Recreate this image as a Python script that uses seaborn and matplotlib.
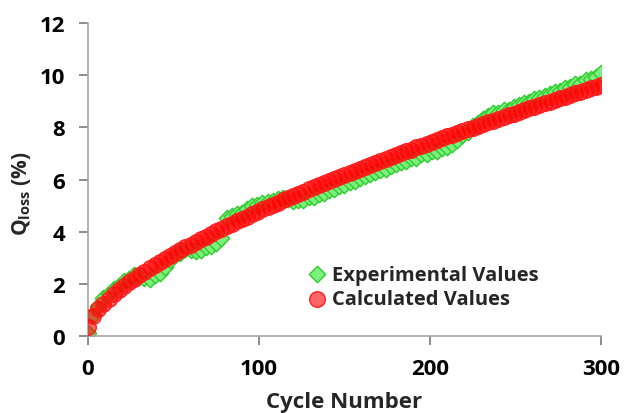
import numpy as np
import pandas as pd
import matplotlib.pyplot as plt
import seaborn as sns

# cycle numbers (every 3rd cycle)
cycles = list(range(0, 301, 3))

experimental = [
    0.10, 0.82, 1.14, 1.44, 1.60, 1.82, 1.93, 2.10, 2.20, 2.32,
    2.28, 2.22, 2.20, 2.32, 2.40, 2.64, 2.90, 3.12, 3.20, 3.32,
    3.28, 3.26, 3.30, 3.40, 3.44, 3.57, 3.76, 4.52, 4.60, 4.67,
    4.70, 4.87, 4.98, 5.04, 5.08, 5.14, 5.16, 5.24, 5.28, 5.24,
    5.16, 5.22, 5.22, 5.32, 5.34, 5.44, 5.48, 5.58, 5.64, 5.74,
    5.80, 5.90, 5.96, 6.06, 6.12, 6.22, 6.28, 6.36, 6.42, 6.52,
    6.58, 6.66, 6.70, 6.82, 6.84, 6.96, 6.98, 7.08, 7.10, 7.22,
    7.26, 7.38, 7.50, 7.72, 7.84, 8.06, 8.16, 8.32, 8.44, 8.54,
    8.56, 8.68, 8.68, 8.78, 8.84, 8.92, 8.98, 9.08, 9.12, 9.22,
    9.26, 9.36, 9.40, 9.52, 9.56, 9.66, 9.68, 9.80, 9.84, 9.94,
    10.08,
]

calculated = [
    0.35, 0.77, 1.02, 1.23, 1.42, 1.60, 1.76, 1.91, 2.06, 2.20,
    2.33, 2.46, 2.59, 2.71, 2.83, 2.95, 3.07, 3.18, 3.29, 3.40,
    3.50, 3.61, 3.71, 3.81, 3.91, 4.01, 4.11, 4.21, 4.30, 4.40,
    4.49, 4.58, 4.67, 4.76, 4.85, 4.94, 5.03, 5.11, 5.20, 5.28,
    5.37, 5.45, 5.53, 5.62, 5.70, 5.78, 5.86, 5.94, 6.02, 6.10,
    6.18, 6.26, 6.33, 6.41, 6.49, 6.56, 6.64, 6.71, 6.79, 6.86,
    6.94, 7.01, 7.08, 7.15, 7.23, 7.30, 7.37, 7.44, 7.51, 7.58,
    7.65, 7.72, 7.79, 7.86, 7.93, 7.99, 8.06, 8.13, 8.20, 8.26,
    8.33, 8.40, 8.47, 8.53, 8.60, 8.66, 8.73, 8.79, 8.86, 8.92,
    8.99, 9.05, 9.12, 9.18, 9.25, 9.31, 9.37, 9.43, 9.50, 9.56,
    9.62,
]

sns.set_style("ticks")
plt.rcParams["font.family"] = ["Open Sans", "DejaVu Sans"]
plt.rcParams["font.weight"] = "bold"
plt.rcParams["mathtext.fontset"] = "custom"
plt.rcParams["mathtext.rm"] = "Open Sans:bold"
plt.rcParams["mathtext.bf"] = "Open Sans:bold"
plt.rcParams["xtick.major.size"] = 6.5
plt.rcParams["ytick.major.size"] = 6.5
plt.rcParams["xtick.major.width"] = 1.4
plt.rcParams["ytick.major.width"] = 1.4
plt.rcParams["xtick.color"] = "#8C8C8C"
plt.rcParams["ytick.color"] = "#8C8C8C"
plt.rcParams["xtick.labelcolor"] = "black"
plt.rcParams["ytick.labelcolor"] = "black"

fig = plt.figure(figsize=(6.26, 4.14), dpi=100)
ax = fig.add_axes([0.1406, 0.186, 0.8194, 0.756])

df = pd.DataFrame({"cycle": cycles, "exp": experimental, "calc": calculated})

sns.scatterplot(data=df, x="cycle", y="exp", ax=ax, marker="D", s=70,
                color="#7CF07C", edgecolor="#2ECC2E", linewidth=1.0,
                label="Experimental Values", zorder=2)
sns.scatterplot(data=df, x="cycle", y="calc", ax=ax, marker="o", s=125,
                color=(1.0, 0.0, 0.0, 0.6), edgecolor="#FF1E1E", linewidth=1.0,
                label="Calculated Values", zorder=3)

ax.set_xlim(0, 300)
ax.set_ylim(0, 12)
ax.set_xticks([0, 100, 200, 300])
ax.set_yticks([0, 2, 4, 6, 8, 10, 12])
ax.tick_params(axis="both", direction="out", labelsize=16, left=True, bottom=True)
ax.tick_params(axis="y", pad=10)
ax.tick_params(axis="x", pad=9)
for lab in ax.get_xticklabels() + ax.get_yticklabels():
    lab.set_fontweight("bold")

for side in ["top", "right"]:
    ax.spines[side].set_visible(False)
for side in ["left", "bottom"]:
    ax.spines[side].set_color("#A6A6A6")
    ax.spines[side].set_linewidth(1.2)

ax.set_xlabel("Cycle Number", fontsize=16, fontweight="bold")
ax.xaxis.set_label_coords(0.5, -0.175)
ax.set_ylabel(r"Q$_{\mathrm{loss}}$ (%)", fontsize=15, fontweight="bold")
ax.yaxis.set_label_coords(-0.107, 0.46)

leg = ax.legend(loc="upper left", bbox_to_anchor=(0.426, 0.228), frameon=False,
                fontsize=14.5, handletextpad=0.25, borderaxespad=0, borderpad=0,
                labelspacing=0.22, handlelength=1.0)
for t in leg.get_texts():
    t.set_fontweight("bold")

plt.savefig("out.png", dpi=100)
